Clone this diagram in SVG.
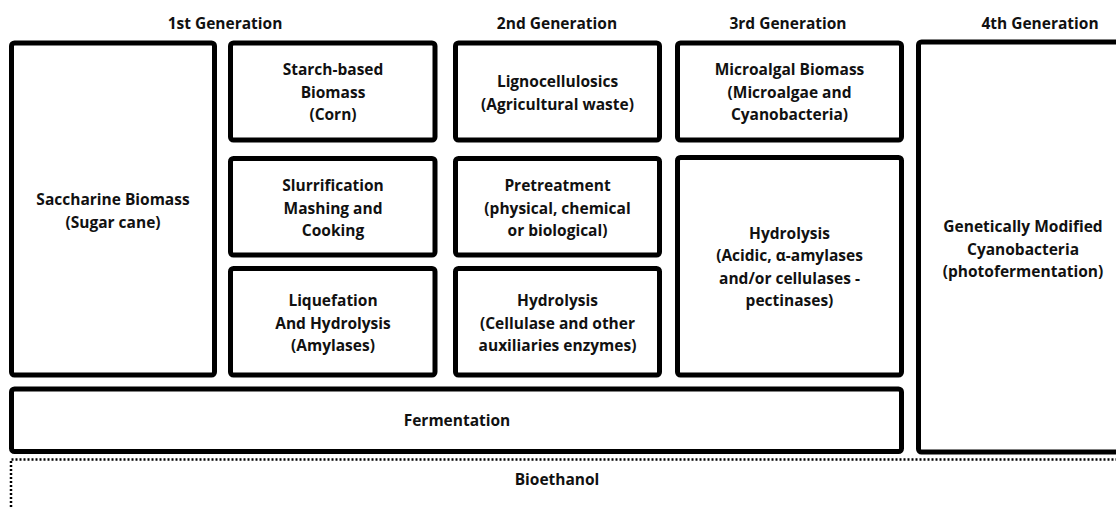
<svg xmlns="http://www.w3.org/2000/svg" width="1116" height="507" viewBox="0 0 1116 507">
  <style>
    .box { fill: #ffffff; stroke: #000000; stroke-width: 5; }
    .lbl { font-family: "Open Sans", "Liberation Sans", sans-serif; font-weight: 700; font-size: 15.5px; fill: #111111; text-anchor: middle; }
    .hdr { font-family: "Open Sans", "Liberation Sans", sans-serif; font-weight: 700; font-size: 15.5px; fill: #111111; text-anchor: middle; }
    .dots { fill: none; stroke: #000000; stroke-width: 2.5; stroke-dasharray: 2 2; }
  </style>
  <rect width="1116" height="507" fill="#ffffff"/>

  <!-- generation headings -->
  <g id="headers">
    <text class="hdr" x="225" y="29">1st Generation</text>
    <text class="hdr" x="557" y="29">2nd Generation</text>
    <text class="hdr" x="788" y="29">3rd Generation</text>
    <text class="hdr" x="1040" y="29">4th Generation</text>
  </g>

  <!-- output bracket (dotted) -->
  <g id="connectors">
    <path class="dots" d="M11,507 V459.5 H1116"/>
  </g>

  <g id="saccharine">
    <rect class="box" x="11.5" y="43" width="203" height="332" rx="3"/>
    <text class="lbl"><tspan x="113" y="205">Saccharine Biomass</tspan><tspan x="113" y="228">(Sugar cane)</tspan></text>
  </g>

  <g id="starch">
    <rect class="box" x="230.5" y="43" width="204.5" height="97" rx="3"/>
    <text class="lbl"><tspan x="333" y="75">Starch-based</tspan><tspan x="333" y="97.5">Biomass</tspan><tspan x="333" y="120">(Corn)</tspan></text>
  </g>

  <g id="slurrification">
    <rect class="box" x="230.5" y="158.5" width="204.5" height="96.5" rx="3"/>
    <text class="lbl"><tspan x="333" y="191">Slurrification</tspan><tspan x="333" y="213.5">Mashing and</tspan><tspan x="333" y="236">Cooking</tspan></text>
  </g>

  <g id="liquefation">
    <rect class="box" x="230.5" y="268.5" width="204.5" height="106.5" rx="3"/>
    <text class="lbl"><tspan x="333" y="306">Liquefation</tspan><tspan x="333" y="328.5">And Hydrolysis</tspan><tspan x="333" y="351">(Amylases)</tspan></text>
  </g>

  <g id="lignocellulosics">
    <rect class="box" x="455.5" y="43" width="204" height="97" rx="3"/>
    <text class="lbl"><tspan x="557.5" y="87">Lignocellulosics</tspan><tspan x="557.5" y="110">(Agricultural waste)</tspan></text>
  </g>

  <g id="pretreatment">
    <rect class="box" x="455.5" y="158.5" width="204" height="96.5" rx="3"/>
    <text class="lbl"><tspan x="557.5" y="191">Pretreatment</tspan><tspan x="557.5" y="213.5">(physical, chemical</tspan><tspan x="557.5" y="236">or biological)</tspan></text>
  </g>

  <g id="hydrolysis-2nd">
    <rect class="box" x="455.5" y="268.5" width="204" height="106.5" rx="3"/>
    <text class="lbl"><tspan x="557.5" y="306">Hydrolysis</tspan><tspan x="557.5" y="328.5">(Cellulase and other</tspan><tspan x="557.5" y="351">auxiliaries enzymes)</tspan></text>
  </g>

  <g id="microalgal">
    <rect class="box" x="677.5" y="43" width="224" height="97" rx="3"/>
    <text class="lbl"><tspan x="789.5" y="75">Microalgal Biomass</tspan><tspan x="789.5" y="97.5">(Microalgae and</tspan><tspan x="789.5" y="120">Cyanobacteria)</tspan></text>
  </g>

  <g id="hydrolysis-3rd">
    <rect class="box" x="677.5" y="157.5" width="224" height="217.5" rx="3"/>
    <text class="lbl"><tspan x="789.5" y="238.5">Hydrolysis</tspan><tspan x="789.5" y="261">(Acidic, α-amylases</tspan><tspan x="789.5" y="283.5">and/or cellulases -</tspan><tspan x="789.5" y="306">pectinases)</tspan></text>
  </g>

  <g id="gm-cyanobacteria">
    <rect class="box" x="918.5" y="42" width="210" height="410" rx="3"/>
    <text class="lbl"><tspan x="1023" y="232">Genetically Modified</tspan><tspan x="1023" y="254.5">Cyanobacteria</tspan><tspan x="1023" y="277">(photofermentation)</tspan></text>
  </g>

  <g id="fermentation">
    <rect class="box" x="11.5" y="389" width="890" height="62.5" rx="3"/>
    <text class="lbl" x="457" y="426">Fermentation</text>
  </g>

  <g id="bioethanol">
    <text class="lbl" x="557" y="485">Bioethanol</text>
  </g>
</svg>
